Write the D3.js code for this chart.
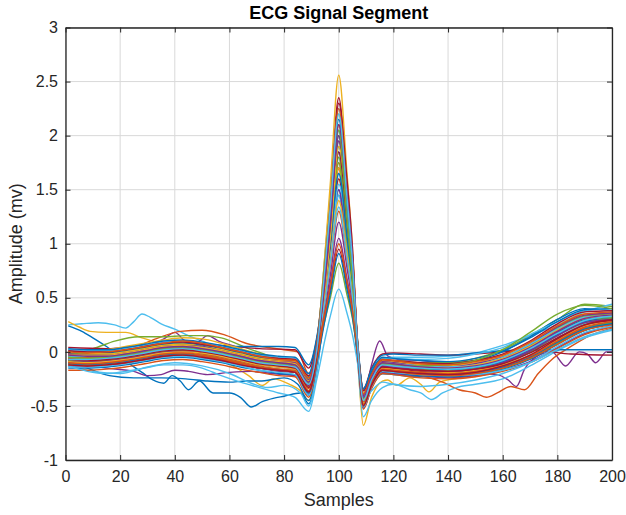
<!DOCTYPE html>
<html>
<head>
<meta charset="utf-8">
<script src="https://cdn.jsdelivr.net/npm/d3@7"></script>
<style>
body { margin: 0; background: #fff; }
svg { font-family: "Liberation Sans", Arial, Helvetica, sans-serif; }
</style>
</head>
<body>
<svg width="626" height="515"></svg>
<script>
// sample positions shared by the regular beats
var grid = [1, 8, 15, 22, 29, 36, 43, 50, 57, 64, 71, 78, 84,
            89, 92, 95, 97, 100, 103, 105, 107, 109,
            112, 116, 120, 130, 140, 150, 160, 170, 180, 190, 200];

// beats with R peak >= 2 mV
var tallBeats = [
    [-0.04,-0.05,-0.05,-0.03,0.00,0.03,0.04,0.02,-0.01,-0.05,-0.09,-0.11,-0.12, -0.28,0.02,0.74,1.27,2.05,1.33,0.78,0.02,-0.44, -0.26,-0.11,-0.12,-0.15,-0.16,-0.14,-0.08,0.03,0.18,0.30,0.33],
    [0.00,-0.01,-0.02,0.00,0.03,0.06,0.07,0.05,0.02,-0.02,-0.06,-0.08,-0.09, -0.24,0.08,0.89,1.46,2.20,1.33,0.74,0.05,-0.38, -0.22,-0.08,-0.09,-0.12,-0.13,-0.10,-0.04,0.08,0.24,0.35,0.36],
    [0.01,0.00,0.00,0.02,0.05,0.08,0.09,0.07,0.04,0.00,-0.04,-0.06,-0.07, -0.22,0.10,0.85,1.46,2.35,1.53,0.89,0.06,-0.36, -0.20,-0.07,-0.08,-0.10,-0.11,-0.08,-0.02,0.10,0.26,0.37,0.38],
    [-0.06,-0.05,-0.04,-0.03,0.00,0.03,0.05,0.03,0.00,-0.05,-0.09,-0.12,-0.13, -0.29,0.01,0.66,1.20,2.10,1.47,0.90,0.02,-0.43, -0.25,-0.11,-0.12,-0.14,-0.15,-0.13,-0.07,0.04,0.19,0.31,0.34],
    [-0.02,-0.03,-0.03,-0.01,0.02,0.05,0.06,0.05,0.01,-0.03,-0.07,-0.09,-0.10, -0.26,0.04,0.72,1.24,2.00,1.30,0.76,0.03,-0.40, -0.23,-0.09,-0.10,-0.13,-0.14,-0.11,-0.05,0.07,0.23,0.34,0.36],
    [-0.04,-0.04,-0.04,-0.02,0.01,0.04,0.05,0.04,0.00,-0.04,-0.08,-0.10,-0.12, -0.28,0.05,0.91,1.50,2.25,1.36,0.76,0.03,-0.42, -0.24,-0.10,-0.11,-0.13,-0.14,-0.12,-0.05,0.07,0.21,0.32,0.34],
    [-0.03,-0.03,-0.03,-0.01,0.02,0.05,0.06,0.04,0.01,-0.03,-0.07,-0.09,-0.11, -0.27,0.06,0.92,1.59,2.56,1.66,0.97,0.05,-0.44, -0.25,-0.10,-0.11,-0.14,-0.15,-0.12,-0.06,0.05,0.20,0.31,0.34],
    [-0.12,-0.13,-0.12,-0.10,-0.07,-0.04,-0.03,-0.05,-0.08,-0.12,-0.15,-0.17,-0.19, -0.37,-0.02,0.73,1.33,2.30,1.60,0.97,0.00,-0.50, -0.31,-0.17,-0.18,-0.20,-0.21,-0.19,-0.13,-0.03,0.12,0.25,0.30],
    [0.03,0.02,0.02,0.04,0.07,0.10,0.11,0.09,0.06,0.02,-0.02,-0.04,-0.05, -0.20,0.12,0.77,1.33,2.15,1.40,0.82,0.07,-0.34, -0.18,-0.05,-0.06,-0.08,-0.09,-0.06,0.01,0.13,0.28,0.39,0.40],
    [-0.05,-0.06,-0.05,-0.03,0.00,0.03,0.04,0.02,-0.01,-0.05,-0.09,-0.11,-0.12, -0.28,0.03,0.84,1.37,2.05,1.23,0.68,0.02,-0.43, -0.25,-0.11,-0.12,-0.13,-0.12,-0.08,0.02,0.18,0.35,0.43,0.40],
    [0.00,-0.01,0.00,0.02,0.05,0.08,0.10,0.08,0.04,0.00,-0.04,-0.07,-0.08, -0.24,0.08,0.81,1.40,2.25,1.46,0.86,0.05,-0.39, -0.21,-0.07,-0.08,-0.11,-0.12,-0.09,-0.03,0.09,0.24,0.35,0.37],
    [-0.03,-0.04,-0.04,-0.02,0.01,0.04,0.05,0.03,0.00,-0.04,-0.08,-0.10,-0.12, -0.28,0.04,0.66,1.20,2.10,1.47,0.90,0.02,-0.42, -0.24,-0.10,-0.11,-0.14,-0.15,-0.13,-0.07,0.04,0.19,0.31,0.34],
    [-0.07,-0.07,-0.06,-0.04,-0.01,0.02,0.03,0.01,-0.02,-0.06,-0.10,-0.12,-0.14, -0.30,0.02,0.79,1.36,2.20,1.43,0.84,0.02,-0.45, -0.26,-0.12,-0.13,-0.15,-0.16,-0.14,-0.08,0.03,0.17,0.29,0.33]
];

// beats with R peak between 1.5 and 2 mV
var midBeats = [
    [-0.10,-0.11,-0.10,-0.08,-0.05,-0.02,0.00,-0.02,-0.05,-0.09,-0.13,-0.16,-0.17, -0.34,-0.04,0.63,1.09,1.75,1.14,0.67,-0.02,-0.48, -0.30,-0.16,-0.17,-0.20,-0.21,-0.19,-0.14,-0.05,0.10,0.22,0.27],
    [-0.13,-0.14,-0.13,-0.11,-0.08,-0.05,-0.04,-0.06,-0.09,-0.12,-0.15,-0.18,-0.19, -0.38,-0.08,0.64,1.03,1.50,0.88,0.47,-0.04,-0.52, -0.33,-0.19,-0.20,-0.22,-0.24,-0.22,-0.17,-0.09,0.04,0.17,0.24],
    [-0.03,-0.04,-0.04,-0.02,0.01,0.04,0.06,0.04,0.00,-0.04,-0.08,-0.10,-0.11, -0.27,0.03,0.70,1.21,1.95,1.27,0.74,0.01,-0.42, -0.24,-0.10,-0.11,-0.14,-0.15,-0.12,-0.06,0.06,0.22,0.33,0.35],
    [-0.07,-0.08,-0.07,-0.05,-0.02,0.01,0.02,0.00,-0.03,-0.07,-0.11,-0.13,-0.15, -0.32,-0.01,0.49,0.92,1.65,1.17,0.73,0.00,-0.46, -0.28,-0.14,-0.15,-0.18,-0.19,-0.17,-0.11,-0.01,0.13,0.26,0.30],
    [-0.15,-0.15,-0.14,-0.12,-0.09,-0.06,-0.05,-0.07,-0.10,-0.14,-0.17,-0.20,-0.21, -0.40,-0.06,0.67,1.15,1.85,1.20,0.70,-0.03,-0.50, -0.32,-0.18,-0.19,-0.22,-0.23,-0.21,-0.16,-0.07,0.07,0.20,0.26],
    [-0.11,-0.12,-0.11,-0.09,-0.06,-0.03,-0.02,-0.03,-0.06,-0.10,-0.14,-0.16,-0.18, -0.36,-0.05,0.75,1.22,1.80,1.07,0.58,-0.02,-0.49, -0.31,-0.17,-0.18,-0.21,-0.22,-0.20,-0.15,-0.06,0.08,0.21,0.27],
    [-0.08,-0.09,-0.08,-0.06,-0.03,0.00,0.01,0.00,-0.03,-0.07,-0.11,-0.13,-0.15, -0.31,-0.02,0.58,0.99,1.60,1.04,0.61,-0.01,-0.46, -0.28,-0.14,-0.15,-0.18,-0.19,-0.16,-0.10,0.00,0.15,0.28,0.31],
    [0.00,-0.01,-0.01,0.01,0.04,0.07,0.08,0.06,0.03,-0.01,-0.05,-0.07,-0.08, -0.23,0.07,0.58,1.08,1.90,1.34,0.82,0.04,-0.39, -0.21,-0.08,-0.09,-0.11,-0.12,-0.08,0.00,0.14,0.30,0.40,0.38],
    [-0.17,-0.17,-0.16,-0.14,-0.11,-0.08,-0.07,-0.09,-0.12,-0.16,-0.19,-0.22,-0.23, -0.42,-0.09,0.61,1.05,1.70,1.11,0.65,-0.05,-0.53, -0.34,-0.20,-0.21,-0.24,-0.25,-0.23,-0.18,-0.10,0.03,0.16,0.23],
    [0.00,0.00,0.02,0.05,0.08,0.11,0.13,0.12,0.08,0.03,-0.02,-0.06,-0.08, -0.25,0.04,0.71,1.15,1.70,1.01,0.55,0.01,-0.41, -0.26,-0.12,-0.14,-0.17,-0.19,-0.17,-0.12,-0.03,0.12,0.25,0.30],
    [-0.09,-0.09,-0.08,-0.06,-0.03,0.00,0.01,-0.01,-0.04,-0.08,-0.12,-0.14,-0.16, -0.32,-0.01,0.70,1.21,1.95,1.27,0.74,0.00,-0.45, -0.27,-0.13,-0.14,-0.16,-0.17,-0.15,-0.09,0.02,0.17,0.29,0.33],
    [-0.14,-0.14,-0.13,-0.11,-0.08,-0.05,-0.04,-0.06,-0.09,-0.13,-0.17,-0.19,-0.21, -0.40,-0.07,0.46,0.86,1.55,1.11,0.69,-0.04,-0.51, -0.32,-0.18,-0.19,-0.21,-0.22,-0.21,-0.17,-0.10,0.02,0.14,0.21],
    [-0.02,-0.03,-0.03,-0.01,0.02,0.05,0.06,0.04,0.01,-0.03,-0.07,-0.09,-0.11, -0.26,0.04,0.67,1.15,1.85,1.20,0.70,0.02,-0.41, -0.23,-0.10,-0.11,-0.13,-0.14,-0.12,-0.07,0.04,0.18,0.30,0.33],
    [-0.08,-0.08,-0.07,-0.05,-0.02,0.01,0.02,0.00,-0.03,-0.07,-0.11,-0.13,-0.14, -0.30,0.00,0.73,1.19,1.75,1.04,0.57,0.00,-0.44, -0.26,-0.12,-0.13,-0.16,-0.17,-0.15,-0.10,0.00,0.15,0.27,0.31],
    [-0.04,-0.05,-0.04,-0.02,0.01,0.04,0.05,0.03,0.00,-0.04,-0.08,-0.10,-0.12, -0.28,0.02,0.59,1.02,1.65,1.07,0.63,0.01,-0.42, -0.24,-0.11,-0.12,-0.15,-0.16,-0.14,-0.09,0.01,0.16,0.28,0.32],
    [-0.05,-0.06,-0.05,-0.03,0.00,0.03,0.04,0.02,-0.01,-0.05,-0.09,-0.11,-0.13, -0.29,0.02,0.58,1.08,1.90,1.34,0.82,0.01,-0.44, -0.25,-0.11,-0.12,-0.14,-0.15,-0.13,-0.07,0.03,0.18,0.30,0.33]
];

// beats with R peak below 1.5 mV
var shortBeats = [
    [-0.09,-0.10,-0.09,-0.07,-0.04,-0.01,0.00,-0.01,-0.04,-0.08,-0.12,-0.14,-0.16, -0.33,-0.03,0.50,0.87,1.40,0.91,0.53,-0.02,-0.47, -0.29,-0.15,-0.16,-0.19,-0.20,-0.18,-0.12,-0.03,0.11,0.24,0.29],
    [-0.06,-0.07,-0.06,-0.04,-0.01,0.02,0.03,0.01,-0.02,-0.06,-0.10,-0.12,-0.14, -0.30,-0.04,0.38,0.65,1.05,0.68,0.40,-0.02,-0.40, -0.26,-0.13,-0.14,-0.17,-0.18,-0.16,-0.10,0.01,0.15,0.27,0.30],
    [-0.01,-0.02,-0.02,0.00,0.03,0.06,0.07,0.05,0.02,-0.02,-0.06,-0.08,-0.09, -0.25,-0.02,0.30,0.51,0.82,0.53,0.31,-0.04,-0.36, -0.22,-0.09,-0.10,-0.12,-0.13,-0.11,-0.05,0.06,0.20,0.30,0.32],
    [-0.13,-0.18,-0.20,-0.18,-0.15,-0.12,-0.12,-0.15,-0.22,-0.28,-0.33,-0.38,-0.42, -0.55,-0.25,0.12,0.34,0.58,0.36,0.16,-0.12,-0.45, -0.36,-0.28,-0.30,-0.32,-0.30,-0.26,-0.20,-0.10,0.05,0.18,0.24],
    [-0.07,-0.08,-0.07,-0.05,-0.02,0.01,0.02,0.00,-0.03,-0.07,-0.11,-0.13,-0.15, -0.33,-0.06,0.34,0.59,0.95,0.62,0.36,-0.03,-0.43, -0.27,-0.14,-0.15,-0.17,-0.18,-0.16,-0.11,-0.01,0.13,0.25,0.29],
    [-0.11,-0.12,-0.11,-0.09,-0.06,-0.03,-0.02,-0.04,-0.07,-0.11,-0.15,-0.17,-0.19, -0.38,-0.10,0.30,0.55,0.91,0.58,0.33,-0.06,-0.46, -0.30,-0.17,-0.18,-0.20,-0.21,-0.19,-0.14,-0.05,0.09,0.21,0.26],
    [-0.12,-0.13,-0.12,-0.10,-0.07,-0.04,-0.03,-0.04,-0.07,-0.11,-0.15,-0.17,-0.19, -0.37,-0.07,0.47,0.81,1.30,0.85,0.49,-0.04,-0.49, -0.31,-0.17,-0.18,-0.21,-0.22,-0.20,-0.15,-0.06,0.07,0.20,0.25],
    [0.02,0.01,0.01,0.03,0.06,0.09,0.10,0.08,0.05,0.01,-0.03,-0.05,-0.06, -0.22,0.06,0.48,0.83,1.34,0.87,0.51,0.02,-0.36, -0.19,-0.06,-0.06,-0.07,-0.06,-0.02,0.04,0.16,0.28,0.38,0.40],
    [-0.10,-0.11,-0.10,-0.08,-0.05,-0.02,-0.01,-0.03,-0.06,-0.10,-0.14,-0.16,-0.18, -0.36,-0.07,0.36,0.62,1.00,0.65,0.38,-0.04,-0.46, -0.29,-0.16,-0.17,-0.19,-0.20,-0.18,-0.13,-0.04,0.10,0.23,0.28]
];

// irregular beats, [sample, mV]
var highStartCyan = [[1,0.25],[6,0.26],[12,0.27],[18,0.25],[22,0.22],[25,0.28],[28,0.35],[31,0.32],[35,0.26],[40,0.21],[45,0.15],[50,0.10],[57,0.04],[64,-0.02],[71,-0.07],[78,-0.10],[84,-0.12],[89,-0.28],[92,0.03],[95,0.70],[97,1.21],[100,1.95],[103,1.27],[105,0.74],[107,0.02],[109,-0.43],[112,-0.25],[116,-0.11],[120,-0.12],[130,-0.14],[140,-0.15],[150,-0.13],[160,-0.06],[170,0.05],[180,0.20],[190,0.31],[200,0.34]];
var highStartYellow = [[1,0.28],[5,0.23],[9,0.19],[15,0.18],[22,0.18],[28,0.13],[35,0.08],[45,0.02],[55,-0.05],[62,-0.14],[67,-0.22],[72,-0.31],[76,-0.25],[82,-0.30],[86,-0.36],[89,-0.45],[92,-0.12],[95,0.52],[97,0.96],[100,1.60],[103,1.04],[105,0.58],[107,-0.10],[109,-0.68],[112,-0.42],[116,-0.27],[118,-0.26],[121,-0.31],[126,-0.24],[130,-0.30],[133,-0.37],[137,-0.28],[145,-0.24],[152,-0.22],[160,-0.16],[170,-0.06],[180,0.08],[190,0.20],[200,0.26]];
var wanderBlue = [[1,0.24],[6,0.19],[10,0.13],[15,0.05],[20,-0.04],[24,-0.12],[28,-0.19],[32,-0.26],[36,-0.29],[39,-0.22],[42,-0.27],[45,-0.35],[49,-0.27],[54,-0.38],[60,-0.38],[64,-0.42],[68,-0.51],[72,-0.46],[76,-0.43],[80,-0.41],[86,-0.38],[89,-0.48],[92,-0.18],[95,0.46],[97,0.87],[100,1.45],[103,0.94],[105,0.52],[107,-0.08],[109,-0.50],[112,-0.32],[116,-0.20],[120,-0.21],[130,-0.23],[140,-0.23],[150,-0.21],[160,-0.15],[170,-0.05],[180,0.10],[190,0.22],[200,0.28]];
var lowFlatBlue = [[1,-0.08],[8,-0.15],[16,-0.22],[25,-0.24],[35,-0.24],[44,-0.25],[52,-0.27],[60,-0.28],[66,-0.27],[71,-0.27],[80,-0.24],[85,-0.30],[89,-0.45],[92,-0.15],[95,0.50],[97,0.90],[100,1.50],[103,0.98],[105,0.55],[107,-0.06],[109,-0.52],[112,-0.33],[116,-0.20],[120,-0.20],[130,-0.22],[140,-0.22],[150,-0.20],[160,-0.14],[170,-0.05],[180,0.08],[190,0.20],[200,0.26]];
var bumpyPurple = [[1,-0.02],[10,-0.03],[20,0.00],[30,0.05],[36,0.12],[40,0.18],[44,0.10],[48,0.09],[52,0.15],[56,0.10],[62,0.05],[70,-0.04],[78,-0.09],[84,-0.12],[89,-0.30],[92,0.02],[95,0.67],[97,1.15],[100,1.85],[103,1.20],[105,0.70],[107,0.00],[109,-0.42],[112,-0.12],[115,0.10],[118,-0.04],[122,-0.07],[130,-0.08],[140,-0.10],[150,-0.08],[160,-0.03],[170,0.08],[180,0.22],[190,0.33],[200,0.35]];
var notchedPurple = [[1,-0.10],[8,-0.12],[15,-0.15],[25,-0.18],[30,-0.22],[35,-0.21],[40,-0.17],[45,-0.18],[52,-0.21],[60,-0.19],[68,-0.18],[75,-0.20],[84,-0.22],[89,-0.40],[92,-0.12],[95,0.40],[97,0.72],[100,1.20],[103,0.78],[105,0.44],[107,-0.07],[109,-0.48],[112,-0.30],[116,-0.16],[120,-0.15],[130,-0.18],[140,-0.20],[150,-0.20],[158,-0.21],[162,-0.26],[165,-0.32],[168,-0.16],[172,-0.05],[178,0.00],[183,-0.13],[188,0.00],[191,-0.02],[194,-0.10],[198,0.00],[200,0.00]];
var lateDipRed = [[1,-0.02],[10,-0.01],[18,0.00],[26,0.05],[34,0.13],[42,0.19],[50,0.20],[58,0.16],[66,0.08],[74,0.04],[80,0.02],[85,0.00],[89,-0.20],[92,0.08],[95,0.72],[97,1.24],[100,2.00],[103,1.30],[105,0.76],[107,0.04],[109,-0.40],[112,-0.25],[116,-0.18],[120,-0.19],[130,-0.22],[138,-0.28],[144,-0.35],[150,-0.38],[154,-0.42],[158,-0.38],[163,-0.32],[168,-0.35],[173,-0.20],[178,-0.07],[185,0.05],[192,0.15],[200,0.22]];
var highGreen = [[1,0.00],[10,0.03],[18,0.10],[27,0.14],[36,0.14],[44,0.15],[50,0.15],[57,0.13],[66,0.04],[75,-0.04],[84,-0.10],[89,-0.26],[92,0.06],[95,0.76],[97,1.30],[100,2.10],[103,1.37],[105,0.80],[107,0.04],[109,-0.40],[112,-0.22],[116,-0.08],[120,-0.08],[130,-0.10],[140,-0.10],[150,-0.06],[160,0.02],[170,0.15],[180,0.30],[190,0.44],[200,0.42]];
var deepCyan = [[1,-0.12],[10,-0.18],[20,-0.20],[30,-0.14],[40,-0.10],[50,-0.13],[60,-0.20],[68,-0.29],[74,-0.33],[80,-0.31],[86,-0.38],[89,-0.50],[92,-0.18],[95,0.46],[97,0.87],[100,1.45],[103,0.94],[105,0.52],[107,-0.12],[109,-0.60],[112,-0.45],[116,-0.33],[120,-0.30],[126,-0.35],[130,-0.38],[134,-0.44],[138,-0.38],[143,-0.33],[150,-0.30],[160,-0.25],[170,-0.13],[180,0.01],[190,0.13],[200,0.20]];
var earlyTCyan = [[1,-0.05],[15,-0.05],[29,0.00],[43,0.04],[57,-0.01],[71,-0.08],[84,-0.11],[89,-0.27],[92,0.04],[95,0.65],[97,1.12],[100,1.80],[103,1.17],[105,0.68],[107,0.01],[109,-0.40],[112,-0.20],[116,-0.06],[120,-0.05],[130,-0.05],[140,-0.04],[150,-0.01],[160,0.06],[170,0.15],[180,0.25],[190,0.37],[200,0.44]];
var flatEndRed = [[1,0.04],[15,0.03],[29,0.06],[43,0.08],[57,0.06],[71,0.03],[84,0.02],[89,-0.15],[92,0.12],[95,0.61],[97,1.05],[100,1.70],[103,1.11],[105,0.65],[107,0.02],[109,-0.34],[112,-0.15],[116,-0.02],[120,-0.01],[130,-0.02],[140,-0.03],[150,-0.02],[160,0.00],[168,0.02],[175,0.01],[185,-0.02],[200,-0.03]];
var flatEndBlue = [[1,0.02],[15,0.00],[29,0.03],[43,0.06],[57,0.05],[64,0.05],[71,0.05],[78,0.05],[84,0.04],[89,-0.12],[92,0.14],[95,0.72],[97,1.24],[100,2.00],[103,1.30],[105,0.76],[107,0.04],[109,-0.35],[112,-0.16],[116,-0.03],[120,-0.02],[130,-0.03],[140,-0.03],[150,-0.01],[160,0.01],[170,0.02],[180,0.02],[190,0.02],[200,0.02]];

var xTicks = [0, 20, 40, 60, 80, 100, 120, 140, 160, 180, 200];
var yTicks = [-1, -0.5, 0, 0.5, 1, 1.5, 2, 2.5, 3];

// MATLAB default line colours
var palette = ['#0072BD', '#D95319', '#EDB120', '#7E2F8E', '#77AC30', '#4DBEEE', '#A2142F'];
var tallHue = [0, 2, 6, 1, 3, 5, 2, 6, 0, 4, 1, 3, 5];
var midHue = [1, 3, 4, 5, 0, 4, 6, 0, 1, 2, 3, 5, 6, 4, 0, 2];
var shortHue = [2, 3, 4, 5, 6, 0, 1, 5, 1];

var svg = d3.select('svg');
var svgWidth = +svg.attr('width');
var svgHeight = +svg.attr('height');
var padding = {t: 27.5, r: 14, b: 55, l: 65.5};
var chartWidth = svgWidth - padding.l - padding.r;
var chartHeight = svgHeight - padding.t - padding.b;

var xScale = d3.scaleLinear().domain([0, 200]).range([0, chartWidth]);
var yScale = d3.scaleLinear().domain([-1, 3]).range([chartHeight, 0]);

var chartG = svg.append('g')
    .attr('transform', 'translate(' + [padding.l, padding.t] + ')');

// grid lines
chartG.append('g').selectAll('line')
    .data(xTicks).enter().append('line')
    .attr('x1', d => xScale(d)).attr('x2', d => xScale(d))
    .attr('y1', 0).attr('y2', chartHeight)
    .attr('stroke', '#d9d9d9').attr('stroke-width', 1);
chartG.append('g').selectAll('line')
    .data(yTicks).enter().append('line')
    .attr('y1', d => yScale(d)).attr('y2', d => yScale(d))
    .attr('x1', 0).attr('x2', chartWidth)
    .attr('stroke', '#d9d9d9').attr('stroke-width', 1);

chartG.append('clipPath').attr('id', 'plotClip')
    .append('rect').attr('width', chartWidth).attr('height', chartHeight);

// build list of traces
var traces = [];
var irregular = [highStartCyan, highStartYellow, wanderBlue, lowFlatBlue, bumpyPurple, notchedPurple,
                 lateDipRed, highGreen, deepCyan, earlyTCyan, flatEndRed, flatEndBlue];
var irregularHue = [5, 2, 0, 0, 3, 3, 1, 4, 5, 5, 6, 0];
irregular.forEach(function(pts, i) { traces.push({pts: pts, hue: irregularHue[i]}); });
function onGrid(row) { return row.map(function(v, i) { return [grid[i], v]; }); }
midBeats.forEach(function(r, i) { traces.push({pts: onGrid(r), hue: midHue[i]}); });
shortBeats.forEach(function(r, i) { traces.push({pts: onGrid(r), hue: shortHue[i]}); });
tallBeats.forEach(function(r, i) { traces.push({pts: onGrid(r), hue: tallHue[i]}); });

var lineGen = d3.line()
    .x(d => xScale(d[0]))
    .y(d => yScale(d[1]))
    .curve(d3.curveMonotoneX);

chartG.append('g').attr('clip-path', 'url(#plotClip)')
    .selectAll('path').data(traces).enter().append('path')
    .attr('d', d => lineGen(d.pts))
    .attr('fill', 'none')
    .attr('stroke', d => palette[d.hue])
    .attr('stroke-width', 1.4)
    .attr('stroke-linejoin', 'round');

// axes, ticks pointing inward on all four sides
var fontFamily = '"Liberation Sans", Arial, Helvetica, sans-serif';
function styleAxis(g) {
    g.attr('font-size', 16).attr('font-family', fontFamily);
    g.selectAll('.domain').attr('stroke', '#262626').attr('stroke-width', 1.3);
    g.selectAll('.tick line').attr('stroke', '#262626').attr('stroke-width', 1);
    g.selectAll('.tick text').attr('fill', '#262626');
}
chartG.append('g')
    .attr('transform', 'translate(0,' + chartHeight + ')')
    .call(d3.axisBottom(xScale).tickValues(xTicks).tickSizeInner(-5).tickSizeOuter(0).tickPadding(11))
    .call(styleAxis);
chartG.append('g')
    .call(d3.axisTop(xScale).tickValues(xTicks).tickSizeInner(-5).tickSizeOuter(0).tickFormat(''))
    .call(styleAxis);
chartG.append('g')
    .call(d3.axisLeft(yScale).tickValues(yTicks).tickSizeInner(-5).tickSizeOuter(0).tickPadding(7.5)
        .tickFormat(d => String(d)))
    .call(styleAxis);
chartG.append('g')
    .attr('transform', 'translate(' + chartWidth + ',0)')
    .call(d3.axisRight(yScale).tickValues(yTicks).tickSizeInner(-5).tickSizeOuter(0).tickFormat(''))
    .call(styleAxis);

// labels
svg.append('text')
    .attr('x', padding.l + chartWidth / 2).attr('y', 18.5)
    .attr('text-anchor', 'middle')
    .attr('font-size', 18).attr('font-weight', 'bold')
    .attr('fill', '#000')
    .text('ECG Signal Segment');
svg.append('text')
    .attr('x', padding.l + chartWidth / 2).attr('y', 506)
    .attr('text-anchor', 'middle')
    .attr('font-size', 18).attr('fill', '#262626')
    .text('Samples');
svg.append('text')
    .attr('transform', 'translate(21.5,' + (padding.t + chartHeight / 2) + ') rotate(-90)')
    .attr('text-anchor', 'middle')
    .attr('font-size', 18).attr('fill', '#262626')
    .text('Amplitude (mv)');
</script>
</body>
</html>
